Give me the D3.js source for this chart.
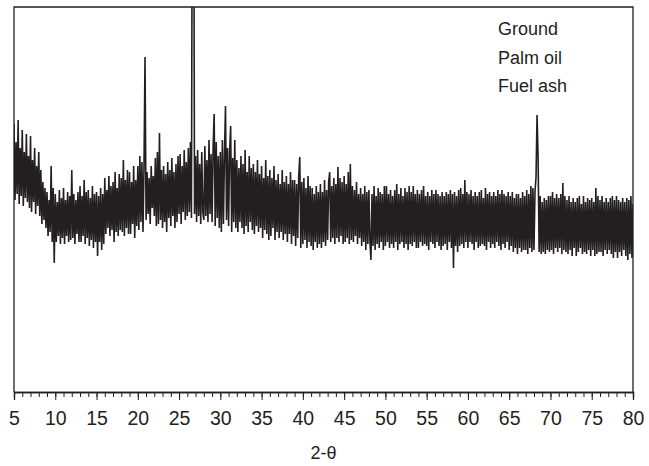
<!DOCTYPE html>
<html>
<head>
<meta charset="utf-8">
<script src="https://cdn.jsdelivr.net/npm/d3@7"></script>
<style>
  body { margin: 0; background: #fff; }
  text { font-family: "Liberation Sans", Arial, Helvetica, sans-serif; fill: #231f20; }
</style>
</head>
<body>
<svg width="649" height="466"></svg>
<script>
// scan settings (2-theta, degrees)
var scanStart = 5, scanStep = 0.125;

// intensity (arbitrary counts), 8 steps per degree
var counts = [
  268,192,250,198,272,188,244,196,  262,186,240,194,258,190,236,184,  // 5-6
  256,180,232,190,244,178,226,186,  240,176,222,168,210,172,204,164,  // 7-8
  200,156,192,160,226,150,204,129,  198,150,190,156,202,148,194,154,  // 9-10
  204,148,192,156,200,150,196,152,  222,154,198,148,192,158,200,150,  // 11-12
  206,150,196,156,212,148,200,154,  202,146,194,152,206,144,198,150,  // 13-14
  200,136,196,150,204,142,198,148,  214,158,202,164,216,156,206,162,  // 15-16
  210,150,220,160,204,156,218,162,  214,160,232,156,212,164,222,158,  // 17-18
  220,158,210,168,226,154,212,166,  226,162,236,170,230,160,224,335,  // 19-20
  172,220,178,214,168,226,184,216,  176,234,166,240,168,259,172,222,  // 21-22
  164,226,170,218,160,230,174,222,  166,234,176,220,164,228,170,236,  // 23-24
  178,238,168,226,180,242,172,230,  176,244,180,250,174,620,620,178,  // 25-26
  236,170,242,176,228,168,240,180,  172,246,176,232,170,252,178,238,  // 27-28
  170,244,278,166,250,174,236,164,  240,160,252,168,236,286,172,244,  // 29-30
  166,240,266,160,234,170,252,164,  232,160,224,170,236,164,228,158,  // 31-32
  242,166,220,160,236,170,224,162,  228,158,220,166,232,160,218,164,  // 33-34
  226,154,214,162,232,158,216,152,  222,156,214,164,226,152,212,160,  // 35-36
  218,154,208,160,222,152,210,158,  216,150,208,158,220,148,212,156,  // 37-38
  212,146,208,154,216,235,144,210,  148,214,152,204,144,216,150,206,  // 39-40
  146,204,142,198,150,206,144,200,  148,208,144,200,150,212,146,202,  // 41-42
  152,210,220,150,206,154,214,148,  208,154,225,150,214,156,210,148,  // 43-44
  216,150,208,154,220,148,228,152,  206,150,202,156,210,148,198,154,  // 45-46
  204,146,198,150,206,142,200,148,  202,150,132,198,146,206,142,196,  // 47-48
  148,204,144,200,150,198,142,206,  146,206,150,198,144,202,148,196,  // 49-50
  144,202,150,208,142,198,148,204,  150,196,144,204,148,200,142,206,  // 51-52
  148,200,146,206,150,198,144,202,  144,198,150,202,146,206,148,196,  // 53-54
  146,200,142,196,150,202,148,198,  144,202,150,198,146,196,142,200,  // 55-56
  146,196,148,200,142,198,150,202,  144,198,124,200,146,196,140,202,  // 57-58
  146,204,148,198,144,212,150,200,  144,198,150,202,148,196,142,200,  // 59-60
  150,196,144,200,146,202,148,194,  146,204,142,198,150,200,144,196,  // 61-62
  148,200,144,196,150,202,146,198,  142,202,148,198,144,196,150,200,  // 63-64
  142,196,146,200,140,194,144,198,  138,198,144,194,140,200,142,196,  // 65-66
  142,202,138,198,144,206,140,204,  142,200,215,277,235,140,196,138,  // 67-68
  190,140,194,138,192,142,196,140,  196,142,200,138,194,144,198,140,  // 69-70
  194,144,198,138,209,142,196,140,  192,138,196,142,190,136,194,144,  // 71-72
  190,136,194,140,196,144,188,138,  196,140,190,138,194,142,192,136,  // 73-74
  194,142,190,136,204,138,196,140,  192,140,196,136,190,142,194,138,  // 75-76
  190,142,194,138,196,134,192,140,  196,134,192,140,190,136,194,142,  // 77-78
  190,136,194,132,192,138,196,134,  188                               // 79-80
];

var xTicks = [5, 10, 15, 20, 25, 30, 35, 40, 45, 50, 55, 60, 65, 70, 75, 80];
var legendLabels = ["Ground", "Palm oil", "Fuel ash"];
var xLabel = "2-\u03b8";

var svg = d3.select("svg");
var ink = "#231f20";

var x = d3.scaleLinear().domain([5, 80]).range([14, 633]);
var y = d3.scaleLinear().domain([0, 385]).range([392, 7]);

var data = counts.map(function(c, i) { return { t: scanStart + i * scanStep, c: c }; });

svg.append("clipPath").attr("id", "plot")
  .append("rect").attr("x", 14).attr("y", 7).attr("width", 619).attr("height", 385);

var line = d3.line()
  .x(function(d) { return x(d.t); })
  .y(function(d) { return y(d.c); });

svg.append("path")
  .datum(data)
  .attr("clip-path", "url(#plot)")
  .attr("fill", "none")
  .attr("stroke", ink)
  .attr("stroke-width", 1.6)
  .attr("d", line);

// frame: left, top, right
svg.append("path")
  .attr("fill", "none")
  .attr("stroke", ink)
  .attr("stroke-width", 1.3)
  .attr("d", "M" + x(5) + "," + y(0) + "V" + y(385) + "H" + x(80) + "V" + y(0));

// minor ticks every degree, longer ones every 5
var minor = d3.axisBottom(x).tickValues(d3.range(5, 81, 1)).tickSize(5).tickFormat("");
svg.append("g").attr("transform", "translate(0," + y(0) + ")").call(minor);

var major = d3.axisBottom(x).tickValues(xTicks).tickSize(8).tickPadding(11).tickFormat(d3.format("d"));
var gMajor = svg.append("g").attr("transform", "translate(0," + y(0) + ")").call(major);

svg.selectAll(".domain").attr("stroke", ink).attr("stroke-width", 1.3);
svg.selectAll(".tick line").attr("stroke", ink).attr("stroke-width", 1);
gMajor.selectAll(".tick text").attr("font-size", 19.5).attr("fill", ink)
  .style("font-family", "'Liberation Sans', Arial, sans-serif");

svg.append("text")
  .attr("x", (x(5) + x(80)) / 2)
  .attr("y", 459)
  .attr("text-anchor", "middle")
  .attr("font-size", 18)
  .text(xLabel);

svg.selectAll(".legend")
  .data(legendLabels)
  .enter().append("text")
  .attr("class", "legend")
  .attr("x", 498)
  .attr("y", function(d, i) { return 35 + i * 28.5; })
  .attr("font-size", 18)
  .text(function(d) { return d; });
</script>
</body>
</html>
